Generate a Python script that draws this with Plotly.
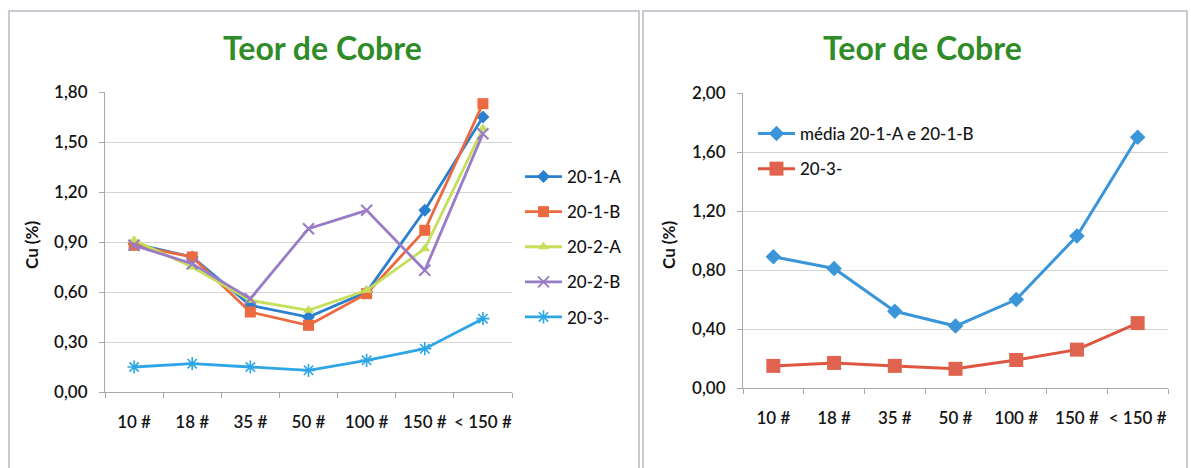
import plotly.graph_objects as go

# Sieve fractions (mesh) on the category axis
fractions = ["10 #", "18 #", "35 #", "50 #", "100 #", "150 #", "< 150 #"]

# Copper grade (Cu %) per sample
cu_20_1_a = [0.89, 0.81, 0.52, 0.45, 0.60, 1.09, 1.65]
cu_20_1_b = [0.88, 0.81, 0.48, 0.40, 0.59, 0.97, 1.73]
cu_20_2_a = [0.91, 0.75, 0.55, 0.49, 0.61, 0.86, 1.58]
cu_20_2_b = [0.88, 0.77, 0.56, 0.98, 1.09, 0.73, 1.55]
cu_20_3 = [0.15, 0.17, 0.15, 0.13, 0.19, 0.26, 0.44]

# Mean of 20-1-A and 20-1-B
cu_media_20_1 = [0.89, 0.81, 0.52, 0.42, 0.60, 1.03, 1.70]

W, H = 1191, 468
FONT = "Lato"
TXT = "#141414"
GREEN = "#2f8c28"
GRID = "#d4d4d4"
AXIS = "#a8a8a8"


def px_x(x):
    return x / W


def px_y(y):
    return (H - y) / H


fig = go.Figure()

left_series = [
    ("20-1-A", cu_20_1_a, "#2a7fcf", dict(symbol="diamond", size=10)),
    ("20-1-B", cu_20_1_b, "#ec6a3f", dict(symbol="square", size=11)),
    ("20-2-A", cu_20_2_a, "#c5df5a", dict(symbol="triangle-up", size=10)),
    ("20-2-B", cu_20_2_b, "#9a7cc6", dict(symbol="x-thin-open", size=11, line=dict(width=2))),
    ("20-3-", cu_20_3, "#2ea6e6", dict(symbol="asterisk-open", size=11, line=dict(width=1.6))),
]
for name, vals, color, mk in left_series:
    mk = dict(mk, color=color)
    if "line" in mk:
        mk["line"] = dict(mk["line"], color=color)
    fig.add_trace(go.Scatter(
        x=fractions, y=vals, name=name, mode="lines+markers",
        line=dict(color=color, width=2.8), marker=mk,
        xaxis="x", yaxis="y", legend="legend", legendgroup=name,
    ))

fig.add_trace(go.Scatter(
    x=fractions, y=cu_media_20_1, name="média 20-1-A e 20-1-B", mode="lines+markers",
    line=dict(color="#3b96d9", width=3),
    marker=dict(symbol="diamond", size=12, color="#3b96d9"),
    xaxis="x2", yaxis="y2", legend="legend2", legendgroup="m",
))
fig.add_trace(go.Scatter(
    x=fractions, y=cu_20_3, name="20-3-", mode="lines+markers",
    line=dict(color="#e0553f", width=3),
    marker=dict(symbol="square", size=14, color="#e0634f"),
    xaxis="x2", yaxis="y2", legend="legend2", legendgroup="r",
))

tickfont = dict(family=FONT, size=17, color=TXT, weight=600)

xcommon = dict(
    type="category", range=[-0.5, 6.5], showline=True, linecolor=AXIS, linewidth=1,
    ticks="outside", tickson="boundaries", ticklen=5, tickcolor=AXIS,
    showgrid=False, zeroline=False, ticklabelstandoff=15, tickangle=0,
    automargin=False, tickfont=tickfont,
)
ycommon = dict(
    showline=True, linecolor=AXIS, linewidth=1, ticks="outside", ticklen=5,
    tickcolor=AXIS, showgrid=True, gridcolor=GRID, gridwidth=1.2, zeroline=False,
    tickformat=".2f", ticklabelstandoff=8, automargin=False, tickfont=tickfont,
)

legend_common = dict(
    xanchor="left", yanchor="top", font=dict(family=FONT, size=17, color=TXT, weight=500),
    bgcolor="rgba(0,0,0,0)", traceorder="grouped", tracegroupgap=10, itemwidth=37,
)

fig.update_layout(
    width=W, height=H, margin=dict(l=0, r=0, t=0, b=0, autoexpand=False),
    paper_bgcolor="white", plot_bgcolor="white", separators=", ",
    xaxis=dict(xcommon, domain=[px_x(105), px_x(512)], anchor="y"),
    yaxis=dict(ycommon, domain=[px_y(392), px_y(92)], range=[0, 1.8], dtick=0.3, anchor="x"),
    xaxis2=dict(xcommon, domain=[px_x(743), px_x(1168)], anchor="y2"),
    yaxis2=dict(ycommon, domain=[px_y(388), px_y(93)], range=[0, 2.0], dtick=0.4, anchor="x2"),
    legend=dict(legend_common, x=px_x(520), y=px_y(159)),
    legend2=dict(legend_common, x=px_x(753), y=px_y(116)),
    showlegend=True,
)

# Panel frames
for x0, x1 in [(9, 639), (643, 1187)]:
    fig.add_shape(type="rect", xref="paper", yref="paper",
                  x0=px_x(x0), x1=px_x(x1), y0=-0.05, y1=px_y(11),
                  line=dict(color="#b9b9c6", width=1.5), fillcolor="rgba(0,0,0,0)")

# Chart titles
for cx in (322, 922):
    fig.add_annotation(text="<b>Teor de Cobre</b>", xref="paper", yref="paper",
                       x=px_x(cx), y=px_y(48), showarrow=False,
                       xanchor="center", yanchor="middle",
                       font=dict(family=FONT, size=32, color=GREEN))

# Vertical axis titles
for cx in (31, 668):
    fig.add_annotation(text="<b>Cu (%)</b>", xref="paper", yref="paper",
                       x=px_x(cx), y=px_y(245), showarrow=False, textangle=-90,
                       xanchor="center", yanchor="middle",
                       font=dict(family=FONT, size=17, color=TXT))

fig.write_html("out.html")
